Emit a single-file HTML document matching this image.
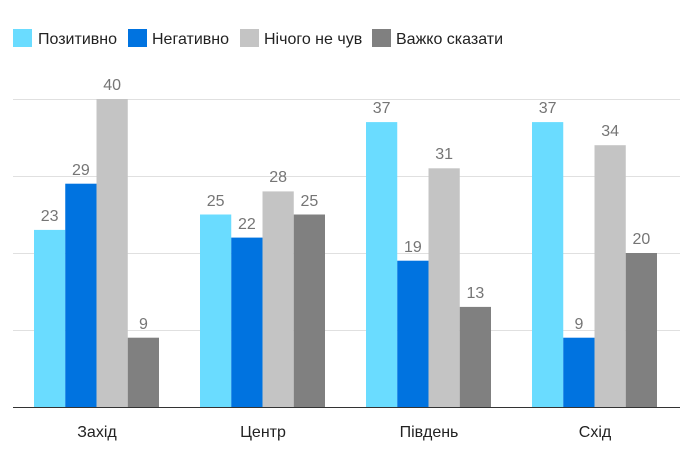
<!DOCTYPE html>
<html><head><meta charset="utf-8"><style>body{margin:0;background:#fff}svg{display:block;font-family:"Liberation Sans",sans-serif}</style></head><body>
<svg width="690" height="463" xmlns="http://www.w3.org/2000/svg">
<g font-size="16" fill="#222">
<rect x="13" y="29" width="19" height="18" fill="#6adcff"/><text x="38" y="44">Позитивно</text>
<rect x="128" y="29" width="19" height="18" fill="#0073e0"/><text x="152" y="44">Негативно</text>
<rect x="240" y="29" width="19" height="18" fill="#c4c4c4"/><text x="264" y="44">Нічого не чув</text>
<rect x="372" y="29" width="19" height="18" fill="#808080"/><text x="396" y="44">Важко сказати</text>
</g>
<g stroke="#e0e0e0" stroke-width="1">
<line x1="13" x2="680" y1="99.5" y2="99.5"/><line x1="13" x2="680" y1="176.5" y2="176.5"/>
<line x1="13" x2="680" y1="253.5" y2="253.5"/><line x1="13" x2="680" y1="330.5" y2="330.5"/>
</g>
<g>
<rect x="34" y="229.9" width="31.25" height="177.1" fill="#6adcff"/>
<rect x="65.25" y="183.7" width="31.25" height="223.3" fill="#0073e0"/>
<rect x="96.5" y="99" width="31.25" height="308" fill="#c4c4c4"/>
<rect x="127.75" y="337.7" width="31.25" height="69.3" fill="#808080"/>
<rect x="200" y="214.5" width="31.25" height="192.5" fill="#6adcff"/>
<rect x="231.25" y="237.6" width="31.25" height="169.4" fill="#0073e0"/>
<rect x="262.5" y="191.4" width="31.25" height="215.6" fill="#c4c4c4"/>
<rect x="293.75" y="214.5" width="31.25" height="192.5" fill="#808080"/>
<rect x="366" y="122.1" width="31.25" height="284.9" fill="#6adcff"/>
<rect x="397.25" y="260.7" width="31.25" height="146.3" fill="#0073e0"/>
<rect x="428.5" y="168.3" width="31.25" height="238.7" fill="#c4c4c4"/>
<rect x="459.75" y="306.9" width="31.25" height="100.1" fill="#808080"/>
<rect x="532" y="122.1" width="31.25" height="284.9" fill="#6adcff"/>
<rect x="563.25" y="337.7" width="31.25" height="69.3" fill="#0073e0"/>
<rect x="594.5" y="145.2" width="31.25" height="261.8" fill="#c4c4c4"/>
<rect x="625.75" y="253" width="31.25" height="154" fill="#808080"/>
</g>
<line x1="13" x2="680" y1="407.5" y2="407.5" stroke="#333" stroke-width="1"/>
<g font-size="16" fill="#222" text-anchor="middle">
<text x="97" y="437">Захід</text><text x="263" y="437">Центр</text><text x="429" y="437">Південь</text><text x="595" y="437">Схід</text>
</g>
<g font-size="16" fill="#757575" text-anchor="middle">
<text x="49.6" y="221">23</text><text x="80.9" y="175">29</text><text x="112.1" y="90">40</text><text x="143.4" y="329">9</text>
<text x="215.6" y="206">25</text><text x="246.9" y="229">22</text><text x="278.1" y="182">28</text><text x="309.4" y="206">25</text>
<text x="381.6" y="113">37</text><text x="412.9" y="252">19</text><text x="444.1" y="159">31</text><text x="475.4" y="298">13</text>
<text x="547.6" y="113">37</text><text x="578.9" y="329">9</text><text x="610.1" y="136">34</text><text x="641.4" y="244">20</text>
</g>
</svg>
</body></html>
